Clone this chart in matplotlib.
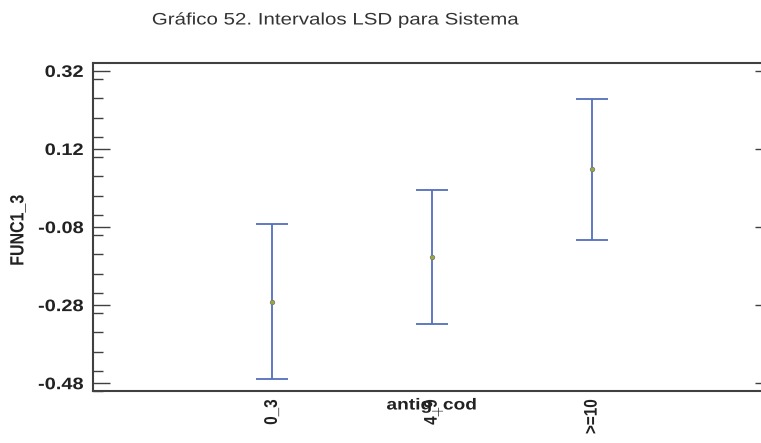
import matplotlib
matplotlib.use("Agg")
import matplotlib.pyplot as plt
from matplotlib.ticker import MultipleLocator, FixedLocator
from matplotlib.patheffects import AbstractPathEffect
from matplotlib.transforms import Affine2D
import numpy as np

plt.rcParams['font.family'] = ['Liberation Sans', 'DejaVu Sans']

# LSD intervals per group
categories = ["0_3", "4_9", ">=10"]
means = [-0.271, -0.157, 0.069]
lower = [-0.469, -0.329, -0.113]
upper = [-0.073, 0.015, 0.248]
y_ticks = [-0.48, -0.28, -0.08, 0.12, 0.32]


class HStretch(AbstractPathEffect):
    """Widen glyphs horizontally around a chosen edge of the text."""

    def __init__(self, sx, anchor='left'):
        super().__init__()
        self.sx = sx
        self.anchor = anchor

    def draw_path(self, renderer, gc, tpath, affine, rgbFace=None):
        bb = tpath.get_extents(affine)
        if self.anchor == 'right':
            x0 = bb.x1
        elif self.anchor == 'center':
            x0 = 0.5 * (bb.x0 + bb.x1)
        else:
            x0 = bb.x0
        new = affine + Affine2D().translate(-x0, 0).scale(self.sx, 1).translate(x0, 0)
        renderer.draw_path(gc, tpath, new, rgbFace)


W, H = 761, 443
fig = plt.figure(figsize=(W / 100, H / 100), dpi=100)
ax = fig.add_axes([93 / W, 1 - 391 / H, (W - 93) / W, (391 - 62.7) / H])

x = np.arange(1, len(categories) + 1)
means_a = np.array(means)
err = np.vstack([means_a - np.array(lower), np.array(upper) - means_a])

ax.errorbar(x, means_a, yerr=err, fmt='none', ecolor='#5470bc',
            elinewidth=1.3, capsize=11.5, capthick=1.3, zorder=2)
ax.plot(x, means_a, 'o', ms=3.2, mfc='#9aa83c', mec='#7a7f70', mew=0.6, zorder=3)

ax.set_xlim(-0.12, 4.06)
ax.set_ylim(-0.50, 0.341)

spine_c = '#404040'
for s in ['left', 'bottom', 'top']:
    ax.spines[s].set_color(spine_c)
    ax.spines[s].set_linewidth(1.5)
ax.spines['right'].set_visible(False)

ax.yaxis.set_major_locator(FixedLocator(y_ticks))
ax.yaxis.set_minor_locator(MultipleLocator(0.05))
ax.set_yticklabels([f"{v:.2f}" for v in y_ticks], fontsize=12, fontweight='bold', color='#222222')
ax.tick_params(axis='y', which='major', direction='in', length=12, width=1, color=spine_c,
               left=True, right=True, pad=7)
ax.tick_params(axis='y', which='minor', direction='in', length=7, width=1, color=spine_c,
               left=True, right=False)
for t in ax.yaxis.get_major_ticks():
    t.tick2line.set_markersize(4)
for lab in ax.get_yticklabels():
    lab.set_path_effects([HStretch(1.2, 'right')])

ax.set_xticks(x)
ax.set_xticklabels(categories, rotation=90, fontsize=11, fontweight='bold', color='#222222')
ax.tick_params(axis='x', which='both', length=0, pad=6)
for lab in ax.get_xticklabels():
    lab.set_path_effects([HStretch(1.2, 'center')])

xl = ax.text(2, -(405 - 391) / (391 - 62.7), "antig_cod", transform=ax.get_xaxis_transform(),
             ha='center', va='center', fontsize=11.5, fontweight='bold', color='#222222')
xl.set_path_effects([HStretch(1.2, 'center')])
yl = fig.text(18 / W, 1 - 230 / H, "FUNC1_3", rotation=90, ha='center', va='center',
              fontsize=11.5, fontweight='bold', color='#222222')
yl.set_path_effects([HStretch(1.2, 'center')])

tt = fig.text(152 / W, 1 - 20 / H, "Gráfico 52. Intervalos LSD para Sistema", ha='left', va='center',
              fontsize=12, color='#333333')
tt.set_path_effects([HStretch(1.23, 'left')])

fig.savefig("out.png", dpi=100)
